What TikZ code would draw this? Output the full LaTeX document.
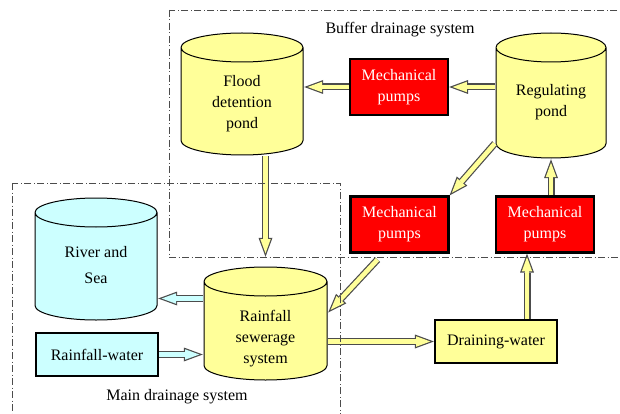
\documentclass[tikz,border=0pt]{standalone}
\usepackage{fontspec}
\setmainfont{Liberation Serif}
\usetikzlibrary{calc,arrows.meta}
\definecolor{pondyellow}{HTML}{FFFF99}
\definecolor{seacyan}{HTML}{CCFFFF}
\definecolor{pumpred}{HTML}{FF0000}
\tikzset{
    tank/.style={rectangle,inner sep=0pt,path picture={
        \draw[line width=1pt,fill=#1] let \p1=(path picture bounding box.north west),
            \p2=(path picture bounding box.south east), \n1={(\x2-\x1)/2-1pt} in
            (\x1+1pt,\y1-15.5pt) -- (\x1+1pt,\y2+15.5pt)
            arc[start angle=180,end angle=360,x radius=\n1,y radius=14.5pt]
            -- (\x2-1pt,\y1-15.5pt)
            arc[start angle=0,end angle=180,x radius=\n1,y radius=14.5pt] -- cycle
            (\x1+1pt,\y1-15.5pt)
            arc[start angle=180,end angle=360,x radius=\n1,y radius=14.5pt];}},
    pumpbox/.style={draw=black,line width=2.2pt,fill=pumpred,text=white,align=center,minimum width=98pt,minimum height=56pt,inner sep=0pt},
    waterbox/.style={draw=black,line width=2.2pt,minimum width=122pt,minimum height=43pt,inner sep=0pt},
    flow/.style={line width=7pt,draw=black!70,-{Triangle[length=19pt,width=14pt,line width=0pt]},
        postaction={draw=#1,line width=4.6pt,-{Triangle[length=14.3pt,width=10.5pt,line width=0pt]},shorten >=3.5pt}},
    flow/.default=pondyellow,
    system/.style={draw=black!70,line width=0.8pt,dash pattern=on 7pt off 2.5pt on 1pt off 2.5pt}
}
\begin{document}
\begin{tikzpicture}[x=1pt,y=-1pt,font=\fontsize{16}{21}\selectfont]
\useasboundingbox (0,0) rectangle (620,414);
\clip (0,0) rectangle (620,414);
\node[tank=pondyellow,minimum width=124pt,minimum height=124pt,
    label={[align=center,yshift=-9.5pt]center:Flood\\detention\\pond}] (flood) at (242,94) {};
\node[tank=pondyellow,minimum width=112pt,minimum height=127pt,
    label={[align=center,yshift=-7pt]center:Regulating\\pond}] (reg) at (551,95.5) {};
\node[tank=seacyan,minimum width=124pt,minimum height=124pt,
    label={[align=center,yshift=-6pt]center:River and\\[5pt]Sea}] (river) at (96,259) {};
\node[tank=pondyellow,minimum width=125pt,minimum height=115pt,
    label={[align=center,yshift=-15pt]center:Rainfall\\sewerage\\system}] (sewer) at (265.5,323.5) {};
\node[pumpbox] (pumpT) at (399,87) {Mechanical\\pumps};
\node[pumpbox] (pumpL) at (399.5,224.5) {Mechanical\\pumps};
\node[pumpbox] (pumpR) at (545,224.5) {Mechanical\\pumps};
\node[waterbox,fill=pondyellow] (drain) at (496,341.5) {Draining-water};
\node[waterbox,fill=seacyan] (rainw) at (97,354.5) {Rainfall-water};
\draw[flow] (pumpT.west) -- (flood.east |- pumpT.west);
\draw[flow] (reg.west |- pumpT.east) -- (pumpT.east);
\draw[flow] (flood.south -| sewer.north) -- ([yshift=9pt]sewer.north);
\draw[flow] ([yshift=-48pt]reg.west) -- (pumpL.north east);
\draw[flow] ([xshift=-22pt,yshift=-6pt]pumpL.south) -- ([yshift=11pt]sewer.east);
\draw[flow] (sewer.east |- drain.west) -- (drain.west);
\draw[flow] ([xshift=31pt]drain.north) -- ([xshift=31pt]drain.north |- pumpR.south);
\draw[flow] (reg.south |- pumpR.north) -- (reg.south);
\draw[flow=seacyan] ([yshift=25pt]sewer.west) -- ([yshift=25pt]sewer.west -| river.east);
\draw[flow=seacyan] (rainw.east) -- (sewer.west |- rainw.east);
\draw[system] (169,10) rectangle (640,257);
\draw[system] (12,183) rectangle (340,430);
\node (buffer) at (400,30) {Buffer drainage system};
\node (main) at (177,397) {Main drainage system};
\end{tikzpicture}
\end{document}
